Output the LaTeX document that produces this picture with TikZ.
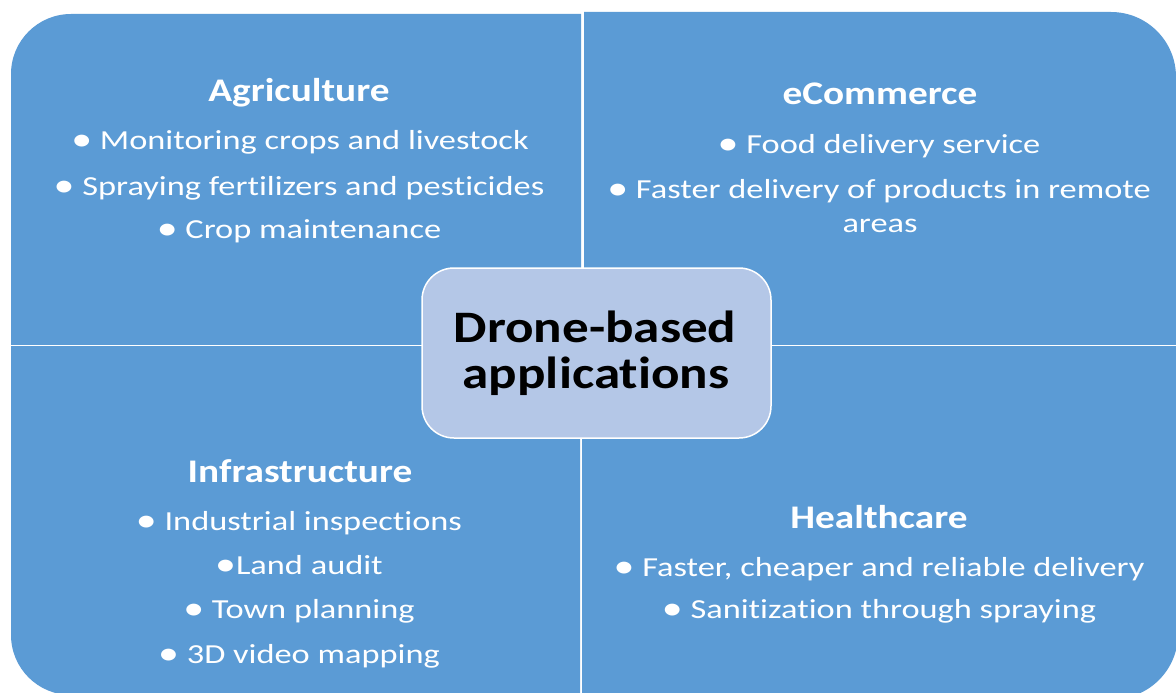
\documentclass[tikz,border=0pt]{standalone}
\usepackage{fontspec}
\setmainfont{Carlito}
\newfontfamily\bodyfont[FakeStretch=1.25, Ligatures={CommonOff,ContextualOff}]{Carlito}
\newfontfamily\headfont[FakeStretch=1.19, Ligatures={CommonOff,ContextualOff}]{Carlito Bold}
\newfontfamily\centerfont[FakeStretch=1.18, Ligatures={CommonOff,ContextualOff}]{Carlito Bold}
\newcommand\bul{\raisebox{-1.6pt}{\scalebox{1.22}{•}}}
\definecolor{quadblue}{RGB}{91,155,213}
\definecolor{hubblue}{RGB}{180,199,231}
\tikzset{
  quadfill/.style={fill=quadblue},
  headtxt/.style={anchor=base, text=white, inner sep=0pt, font=\headfont\fontsize{33}{36}\selectfont},
  itemtxt/.style={anchor=base, text=white, inner sep=0pt, font=\bodyfont\fontsize{27.5}{30}\selectfont},
  hubbox/.style={fill=hubblue, draw=white, line width=1.5pt, rounded corners=32pt},
  hubtxt/.style={anchor=base, text=black, inner sep=0pt, font=\centerfont\fontsize{45}{48}\selectfont}
}
\begin{document}
\begin{tikzpicture}[x=1pt,y=-1pt]
\useasboundingbox (0,0) rectangle (1176,693);
\fill[white] (0,0) rectangle (1176,693);
\clip (0,0) rectangle (1176,693);
% top-left quadrant
\begin{scope}
  \clip (11,14) rectangle (581,344);
  \fill[quadfill, rounded corners=60pt] (11,14) rectangle (700,460);
\end{scope}
% top-right quadrant
\begin{scope}
  \clip (584,12) rectangle (1176,344);
  \fill[quadfill, rounded corners=65pt] (470,12) rectangle (1176,460);
\end{scope}
% bottom-left quadrant
\begin{scope}
  \clip (11,346) rectangle (580,693);
  \fill[quadfill, rounded corners=60pt] (11,230) rectangle (700,695);
\end{scope}
% bottom-right quadrant
\begin{scope}
  \clip (582,346) rectangle (1176,693);
  \fill[quadfill, rounded corners=65pt] (470,230) rectangle (1178,699);
\end{scope}
% centre
\node[hubbox, minimum width=349pt, minimum height=170pt, inner sep=0pt] (hub) at (596.5,353) {};
\node[hubtxt] (hub1) at (595,342) {Drone-based};
\node[hubtxt] (hub2) at (596,388) {applications};
% Agriculture
\node[headtxt] (agt) at (299,102) {Agriculture};
\node[itemtxt] (ag1) at (300,149) {\bul\ Monitoring crops and livestock};
\node[itemtxt] (ag2) at (299,195) {\bul\ Spraying fertilizers and pesticides};
\node[itemtxt] (ag3) at (299,238) {\bul\ Crop maintenance};
% eCommerce
\node[headtxt] (ect) at (880,105) {eCommerce};
\node[itemtxt] (ec1) at (879,153) {\bul\ Food delivery service};
\node[itemtxt] (ec2) at (879,198) {\bul\ Faster delivery of products in remote};
\node[itemtxt] (ec3) at (880,232) {areas};
% Infrastructure
\node[headtxt] (inft) at (300,482) {Infrastructure};
\node[itemtxt] (inf1) at (299,530) {\bul\ Industrial inspections};
\node[itemtxt] (inf2) at (299,574) {\bul Land audit};
\node[itemtxt] (inf3) at (299,618) {\bul\ Town planning};
\node[itemtxt] (inf4) at (299,663) {\bul\ 3D video mapping};
% Healthcare
\node[headtxt] (hct) at (879,528) {Healthcare};
\node[itemtxt] (hc1) at (879,576) {\bul\ Faster, cheaper and reliable delivery};
\node[itemtxt] (hc2) at (879,618) {\bul\ Sanitization through spraying};
\end{tikzpicture}
\end{document}
